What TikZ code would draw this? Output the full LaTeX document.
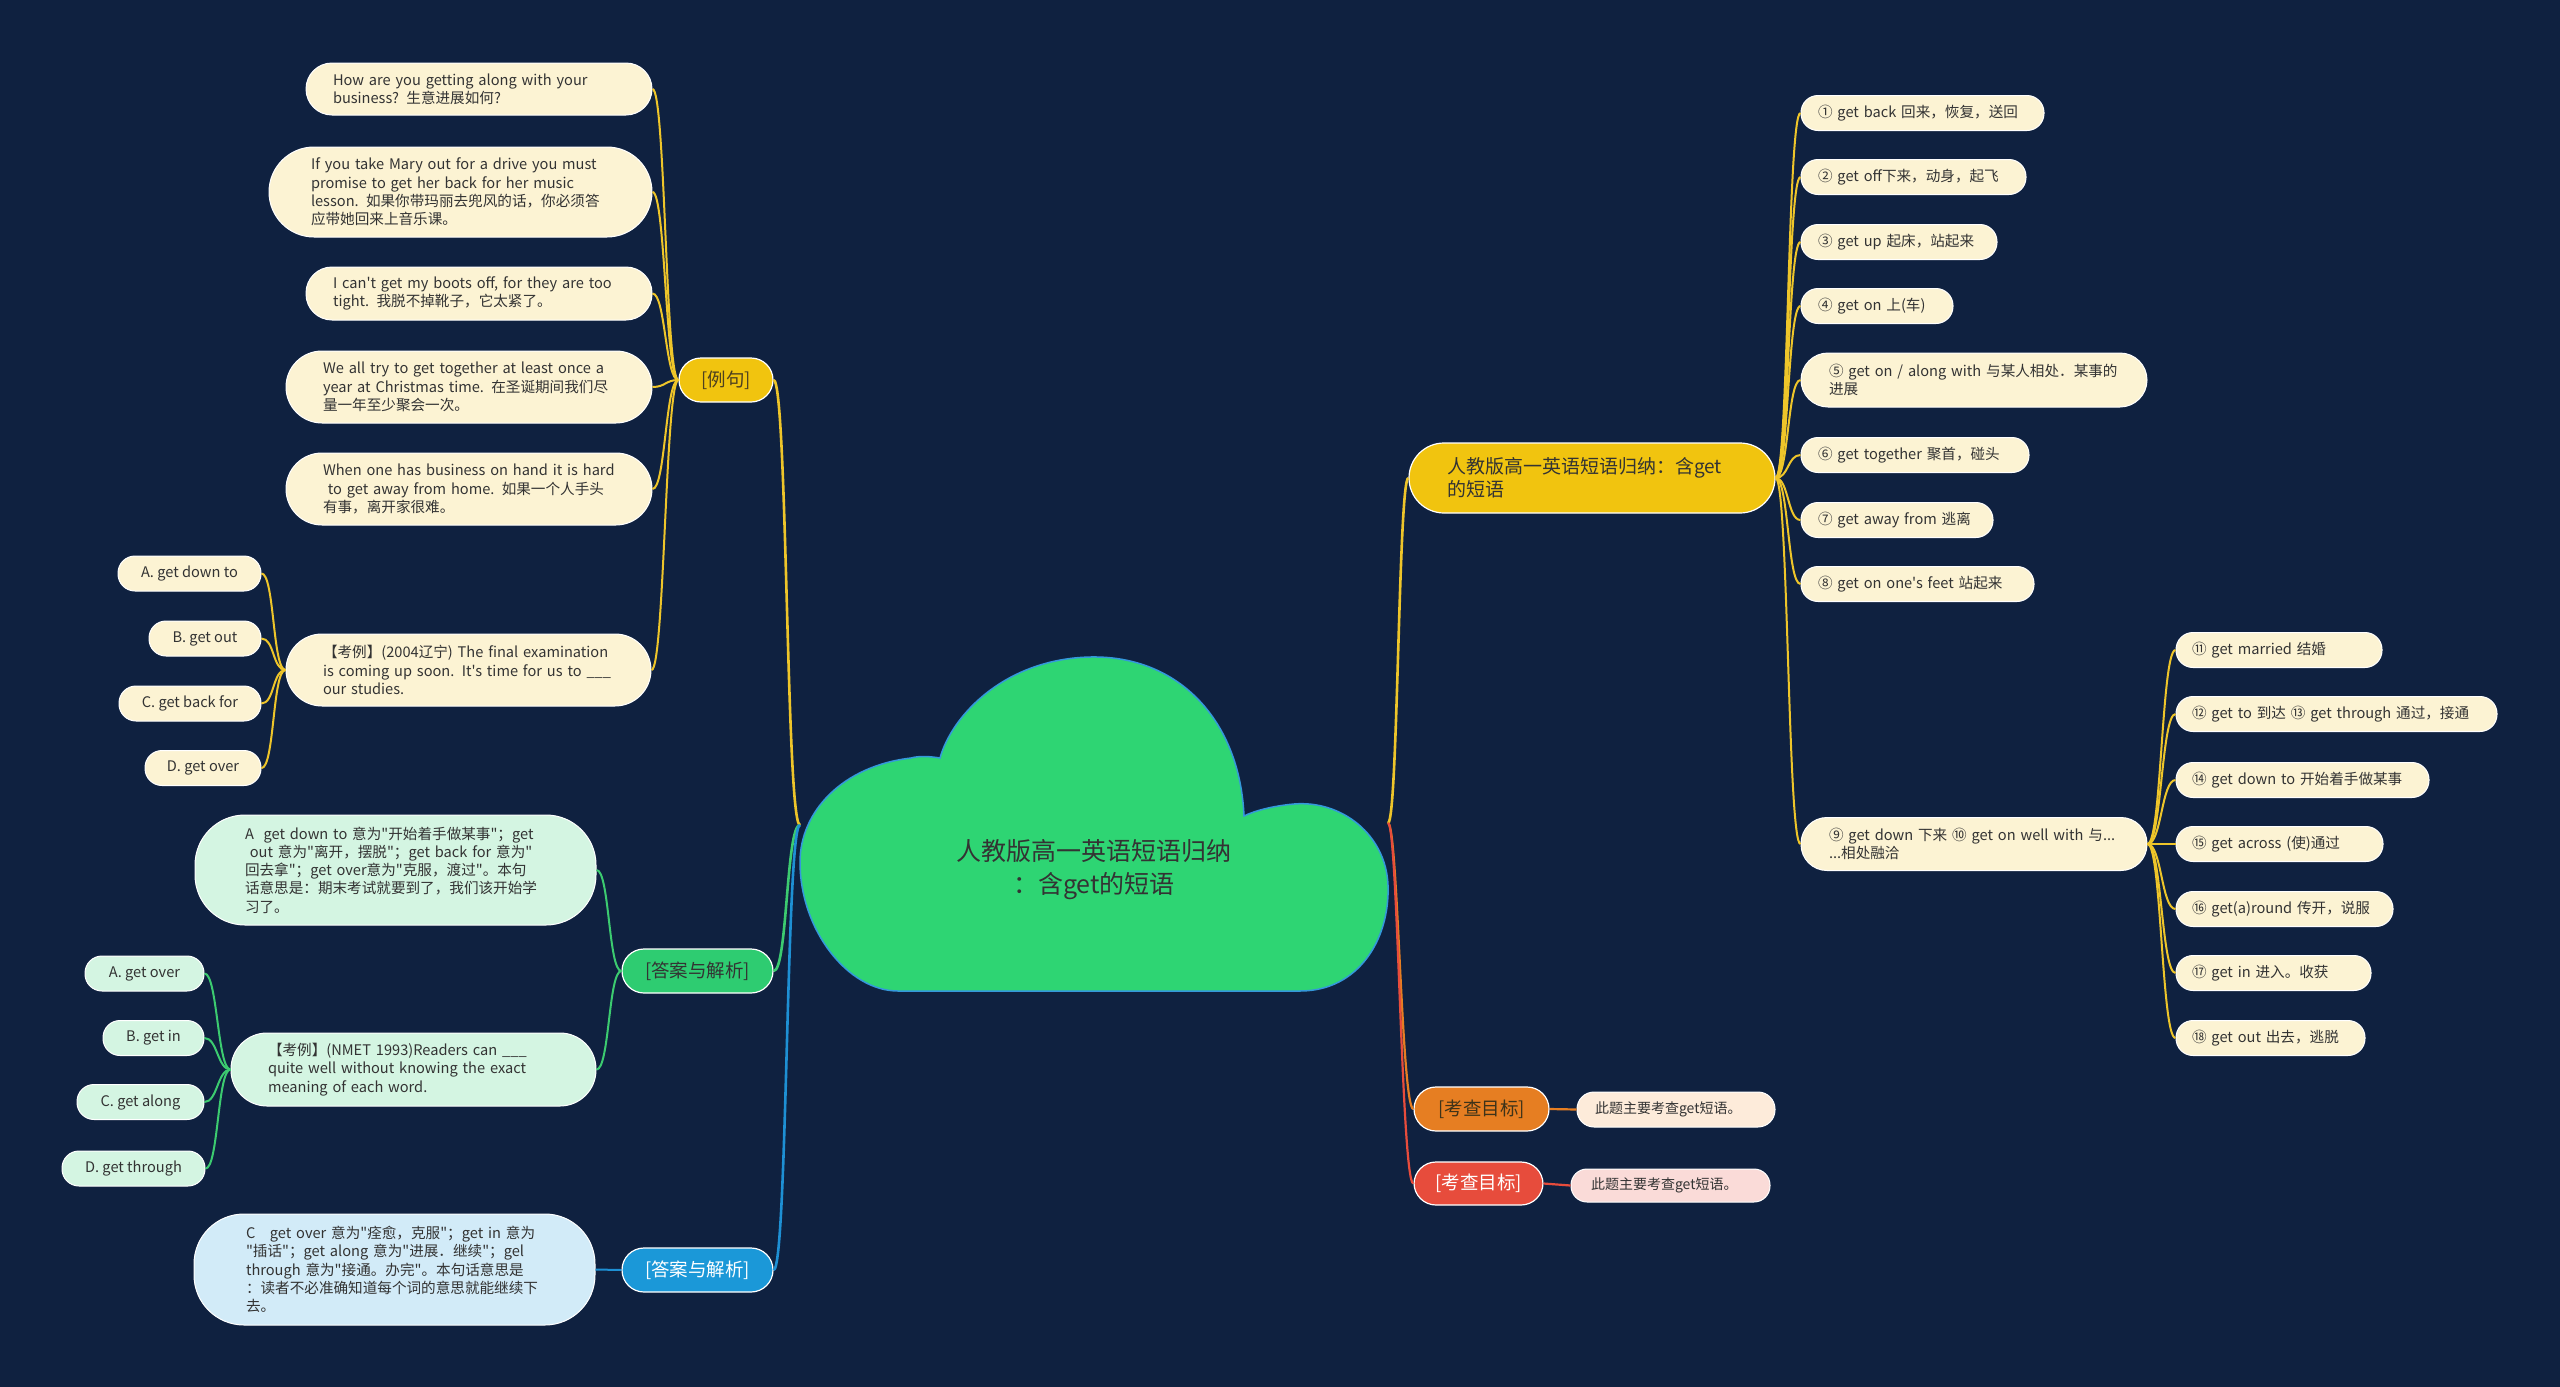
\documentclass[tikz,border=0pt]{standalone}
\usepackage{fontspec}
\setmainfont{Noto Sans CJK SC}[Ligatures=TeXOff]
\newcommand{\oneline}[1]{\mbox{#1}}
\definecolor{bgc}{HTML}{0F2140}
\definecolor{ycol}{HTML}{F1C40F}
\definecolor{yline}{HTML}{EEC52A}
\definecolor{ycream}{HTML}{FCF3D3}
\definecolor{gcol}{HTML}{2ECC71}
\definecolor{gleaf}{HTML}{D4F5E2}
\definecolor{gline}{HTML}{3CCB70}
\definecolor{bcol}{HTML}{1B98D8}
\definecolor{bleaf}{HTML}{D2EBF8}
\definecolor{bline}{HTML}{1E90D4}
\definecolor{ocol}{HTML}{E67E22}
\definecolor{oleaf}{HTML}{FDEBDA}
\definecolor{rcol}{HTML}{E74C3C}
\definecolor{rleaf}{HTML}{FADBD8}
\definecolor{cloudfill}{HTML}{2ED573}
\definecolor{cloudedge}{HTML}{3498DB}
\definecolor{tdark}{HTML}{333333}
\definecolor{ytext}{HTML}{4D4020}
\tikzset{
  leafbase/.style={inner ysep=0pt, line width=1pt, draw=white, text=tdark,
    font=\fontsize{14.6}{18.3}\selectfont, align=left, rounded corners=17pt, minimum height=35pt},
  yleaf/.style={leafbase, fill=ycream},
  gleafs/.style={leafbase, fill=gleaf},
  bleafs/.style={leafbase, fill=bleaf},
  optbox/.style={inner sep=0pt, line width=1pt, draw=white, text=tdark,
    font=\fontsize{14.6}{18.3}\selectfont, rounded corners=17pt, minimum height=35pt},
  branch/.style={inner sep=0pt, line width=1.2pt, draw=white,
    font=\fontsize{18.5}{22}\selectfont, rounded corners=22pt, minimum height=44pt},
  yl/.style={draw=yline, line width=2pt},
  yl1/.style={draw=yline, line width=2.6pt},
  gl/.style={draw=gline, line width=2pt},
  gl1/.style={draw=gline, line width=2.6pt},
  bl/.style={draw=bline, line width=2pt},
  bl1/.style={draw=bline, line width=2.6pt},
  ol/.style={draw=ocol, line width=2.2pt},
  rl/.style={draw=rcol, line width=2.2pt},
}
\begin{document}
\begin{tikzpicture}[x=1pt,y=-1pt]
\useasboundingbox (0,0) rectangle (2560,1387);
\fill[bgc] (0,0) rectangle (2560,1387);

% cloud
\filldraw[fill=cloudfill, draw=cloudedge, line width=1.5pt]
  (898,991) -- (1300,991)
  .. controls (1358,991) and (1390,940) .. (1388,885)
  .. controls (1386,835) and (1342,800) .. (1294,804)
  .. controls (1272,806) and (1254,811) .. (1244,816)
  .. controls (1240,722) and (1180,655) .. (1090,657)
  .. controls (1005,659) and (952,715) .. (940,758)
  .. controls (928,756) and (918,756) .. (911,758)
  .. controls (842,766) and (800,812) .. (800,862)
  .. controls (800,930) and (848,991) .. (898,991) -- cycle;
\node[align=center, text=tdark, font=\fontsize{25}{33}\selectfont] (root) at (1094,870)
  {人教版高一英语短语归纳\\：含get的短语};
\coordinate (cL) at (800,825);
\coordinate (cR) at (1388,823);

% ---------- right side ----------
\node[fill=ycol, draw=white, line width=1.2pt, text=tdark, inner ysep=0pt, inner xsep=38pt,
  text width=290pt, align=left, rounded corners=35pt, minimum height=70pt,
  font=\fontsize{19}{23}\selectfont] (main) at (1592,478)
  {\oneline{人教版高一英语短语归纳：含get}\\\oneline{的短语}};

\node[yleaf, inner xsep=17pt, text width=209pt] (r1) at (1922.5,113) {\oneline{① get back 回来，恢复，送回}};
\node[yleaf, inner xsep=17pt, text width=191pt] (r2) at (1913.5,177) {\oneline{② get off下来，动身，起飞}};
\node[yleaf, inner xsep=17pt, text width=162pt] (r3) at (1899,242) {\oneline{③ get up 起床，站起来}};
\node[yleaf, inner xsep=17pt, text width=118pt] (r4) at (1877,306) {\oneline{④ get on 上(车)}};
\node[yleaf, inner xsep=28pt, text width=290pt, minimum height=54pt, rounded corners=27pt] (r5) at (1974,380)
  {\oneline{⑤ get on / along with 与某人相处．某事的}\\\oneline{进展}};
\node[yleaf, inner xsep=17pt, text width=194pt] (r6) at (1915,455) {\oneline{⑥ get together 聚首，碰头}};
\node[yleaf, inner xsep=17pt, text width=158pt] (r7) at (1897,520) {\oneline{⑦ get away from 逃离}};
\node[yleaf, inner xsep=17pt, text width=199pt] (r8) at (1917.5,584) {\oneline{⑧ get on one's feet 站起来}};
\node[yleaf, inner xsep=28pt, text width=290pt, minimum height=53pt, rounded corners=26pt] (r9) at (1974,844)
  {\oneline{⑨ get down 下来 ⑩ get on well with 与...}\\\oneline{...相处融洽}};

\node[yleaf, inner xsep=16pt, text width=174pt] (s11) at (2279,650) {\oneline{⑪ get married 结婚}};
\node[yleaf, inner xsep=16pt, text width=289pt] (s12) at (2336.5,714) {\oneline{⑫ get to 到达 ⑬ get through 通过，接通}};
\node[yleaf, inner xsep=16pt, text width=221pt] (s14) at (2302.5,780) {\oneline{⑭ get down to 开始着手做某事}};
\node[yleaf, inner xsep=16pt, text width=175pt] (s15) at (2279.5,844) {\oneline{⑮ get across (使)通过}};
\node[yleaf, inner xsep=16pt, text width=185pt] (s16) at (2284.5,909) {\oneline{⑯ get(a)round 传开，说服}};
\node[yleaf, inner xsep=16pt, text width=163pt] (s17) at (2273.5,973) {\oneline{⑰ get in 进入。收获}};
\node[yleaf, inner xsep=16pt, text width=157pt] (s18) at (2270.5,1038) {\oneline{⑱ get out 出去，逃脱}};

\node[branch, fill=ocol, text=ytext!80!black, minimum width=135pt] (org) at (1481.5,1109) {[考查目标]};
\node[leafbase, fill=oleaf, inner xsep=18pt, text width=162pt, font=\fontsize{14}{17}\selectfont] (orgleaf) at (1676,1109.5)
  {\oneline{此题主要考查get短语。}};
\node[branch, fill=rcol, text=white, minimum width=129pt, minimum height=43pt] (red) at (1478.5,1183.5) {[考查目标]};
\node[leafbase, fill=rleaf, inner xsep=20pt, text width=159pt, minimum height=33pt, rounded corners=16pt,
  font=\fontsize{14}{17}\selectfont] (redleaf) at (1670.5,1185.5)
  {\oneline{此题主要考查get短语。}};

% ---------- left side ----------
\node[branch, fill=ycol, text=ytext, minimum width=94pt] (lj) at (726,380) {[例句]};
\node[yleaf, inner xsep=27pt, text width=292pt, minimum height=52pt, rounded corners=26pt] (e1) at (479,89)
  {\oneline{How are you getting along with your}\\\oneline{business? 生意进展如何?}};
\node[yleaf, inner xsep=42pt, text width=299pt, minimum height=90pt, rounded corners=45pt] (e2) at (460.5,192)
  {\oneline{If you take Mary out for a drive you must}\\\oneline{promise to get her back for her music}\\
   \oneline{lesson. 如果你带玛丽去兜风的话，你必须答}\\\oneline{应带她回来上音乐课。}};
\node[yleaf, inner xsep=27pt, text width=292pt, minimum height=53pt, rounded corners=26pt] (e3) at (479,293.5)
  {\oneline{I can't get my boots off, for they are too}\\\oneline{tight. 我脱不掉靴子，它太紧了。}};
\node[yleaf, inner xsep=37pt, text width=292pt, minimum height=72pt, rounded corners=36pt] (e4) at (469,387)
  {\oneline{We all try to get together at least once a}\\\oneline{year at Christmas time. 在圣诞期间我们尽}\\
   \oneline{量一年至少聚会一次。}};
\node[yleaf, inner xsep=37pt, text width=292pt, minimum height=72pt, rounded corners=36pt] (e5) at (469,489)
  {\oneline{When one has business on hand it is hard}\\\oneline{\ to get away from home. 如果一个人手头}\\
   \oneline{有事，离开家很难。}};
\node[yleaf, inner xsep=37pt, text width=291pt, minimum height=72pt, rounded corners=36pt] (x1) at (468.5,670)
  {\oneline{【考例】(2004辽宁) The final examination}\\\oneline{is coming up soon. It's time for us to \_\_\_}\\
   \oneline{our studies.}};
\node[optbox, fill=ycream, minimum width=143pt] (a1) at (189.5,573.5) {A. get down to};
\node[optbox, fill=ycream, minimum width=112pt] (b1) at (205,638.5) {B. get out};
\node[optbox, fill=ycream, minimum width=142pt] (c1) at (190,703.5) {C. get back for};
\node[optbox, fill=ycream, minimum width=116pt] (d1) at (203,768) {D. get over};

\node[branch, fill=gcol, text=tdark, minimum width=151pt] (gb) at (697.5,971) {[答案与解析]};
\node[gleafs, inner xsep=50pt, text width=301pt, minimum height=110pt, rounded corners=50pt] (ans1) at (395.5,870)
  {\oneline{A\ \ get down to 意为"开始着手做某事"；get}\\\oneline{\ out 意为"离开，摆脱"；get back for 意为"}\\
   \oneline{回去拿"；get over意为"克服，渡过"。本句}\\\oneline{话意思是：期末考试就要到了，我们该开始学}\\
   \oneline{习了。}};
\node[gleafs, inner xsep=37pt, text width=291pt, minimum height=73pt, rounded corners=36pt] (x2) at (413.5,1069.5)
  {\oneline{【考例】(NMET 1993)Readers can \_\_\_}\\\oneline{quite well without knowing the exact}\\
   \oneline{meaning of each word.}};
\node[optbox, fill=gleaf, minimum width=119pt] (a2) at (144.5,973.5) {A. get over};
\node[optbox, fill=gleaf, minimum width=101pt] (b2) at (153.5,1038) {B. get in};
\node[optbox, fill=gleaf, minimum width=127pt] (c2) at (140.5,1102) {C. get along};
\node[optbox, fill=gleaf, minimum width=143pt] (d2) at (133.5,1168.5) {D. get through};

\node[branch, fill=bcol, text=white, minimum width=151pt] (bb) at (697.5,1270) {[答案与解析]};
\node[bleafs, inner xsep=52pt, text width=297pt, minimum height=111pt, rounded corners=50pt] (ans2) at (394.5,1269.5)
  {\oneline{C\ \ \ get over 意为"痊愈，克服"；get in 意为}\\\oneline{"插话"；get along 意为"进展．继续"；gel}\\
   \oneline{through 意为"接通。办完"。本句话意思是}\\\oneline{：读者不必准确知道每个词的意思就能继续下}\\
   \oneline{去。}};

% ---------- connectors ----------
\draw[yl1] (cR) .. controls +(10,0) and +(-10,0) .. (main.west);
\foreach \n in {r1,r2,r3,r4,r5,r6,r7,r8,r9}
  \draw[yl] (main.east) .. controls +(13,0) and +(-13,0) .. (\n.west);
\foreach \n in {s11,s12,s14,s15,s16,s17,s18}
  \draw[yl] (r9.east) .. controls +(14,0) and +(-14,0) .. (\n.west);
\draw[ol] (cR) .. controls +(10,0) and +(-12,0) .. (org.west);
\draw[rl] (cR) .. controls +(10,0) and +(-12,0) .. (red.west);
\draw[ol] (org.east) -- (orgleaf.west);
\draw[rl] (red.east) -- (redleaf.west);

\draw[yl1] (cL) .. controls +(-14,0) and +(14,0) .. (lj.east);
\foreach \n in {e1,e2,e3,e4,e5,x1}
  \draw[yl] (lj.west) .. controls +(-13,0) and +(13,0) .. (\n.east);
\foreach \n in {a1,b1,c1,d1}
  \draw[yl] (x1.west) .. controls +(-13,0) and +(13,0) .. (\n.east);
\draw[gl1] (cL) .. controls +(-14,0) and +(14,0) .. (gb.east);
\foreach \n in {ans1,x2}
  \draw[gl] (gb.west) .. controls +(-13,0) and +(13,0) .. (\n.east);
\foreach \n in {a2,b2,c2,d2}
  \draw[gl] (x2.west) .. controls +(-13,0) and +(13,0) .. (\n.east);
\draw[bl1] (cL) .. controls +(-14,0) and +(14,0) .. (bb.east);
\draw[bl] (bb.west) -- (ans2.east);
\end{tikzpicture}
\end{document}
